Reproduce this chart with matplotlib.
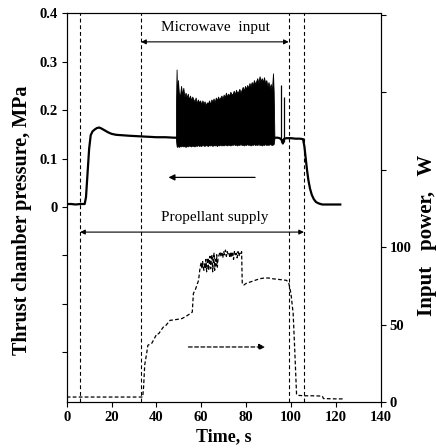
import numpy as np
import matplotlib
matplotlib.use("Agg")
import matplotlib.pyplot as plt

plt.rcParams['font.family'] = ['Liberation Serif', 'DejaVu Serif']

# Thrust chamber pressure, MPa (smooth part of the trace)
t_press = [0, 2, 4, 6, 8, 8.6, 9.3, 10.0, 10.7, 11.5, 12.5, 13.5, 14.5, 15.5, 17, 18.5,
           20, 22, 25, 28, 32, 36, 40, 44, 48, 52, 60, 70, 80, 90, 93, 94, 95, 96, 96.4,
           97, 98, 100, 102, 104, 105.4, 106, 106.6, 107.2, 107.8, 108.5, 109.3, 110.2,
           111.2, 112.5, 114, 117, 120, 122]
press = [0.006, 0.006, 0.005, 0.006, 0.006, 0.02, 0.07, 0.12, 0.148, 0.156, 0.160, 0.163,
         0.164, 0.162, 0.158, 0.154, 0.151, 0.149, 0.148, 0.147, 0.146, 0.145, 0.144,
         0.144, 0.143, 0.143, 0.142, 0.142, 0.142, 0.142, 0.143, 0.143, 0.142, 0.138, 0.131,
         0.141, 0.142, 0.142, 0.141, 0.141, 0.140, 0.125, 0.10, 0.075, 0.055, 0.038, 0.025,
         0.016, 0.010, 0.007, 0.005, 0.005, 0.005, 0.005]

# oscillating part during microwave input (upper / lower envelope)
t_osc = [48.7, 49.0, 49.2, 49.6, 50.0, 50.5, 51.0, 51.5, 52.0, 52.5, 53.0, 53.5, 54.0, 54.5,
         55.0, 55.5, 56.0, 56.5, 57.0, 57.5, 58.0, 58.5, 59.0, 59.5, 60.0, 60.5, 61.0, 61.5,
         62.0, 62.5, 63.0, 63.5, 64.0, 64.5, 65.0, 65.5, 66.0, 66.5, 67.0, 67.5, 68.0, 68.5,
         69.0, 69.5, 70.0, 70.5, 71.0, 71.5, 72.0, 72.5, 73.0, 73.5, 74.0, 74.5, 75.0, 75.5,
         76.0, 76.5, 77.0, 77.5, 78.0, 78.5, 79.0, 79.5, 80.0, 80.5, 81.0, 81.5, 82.0, 82.5,
         83.0, 83.5, 84.0, 84.5, 85.0, 85.5, 86.0, 86.5, 87.0, 87.5, 88.0, 88.5, 89.0, 89.5,
         90.0, 90.5, 91.0, 91.5, 92.0, 92.3, 92.6]
osc_top = [0.20, 0.284, 0.230, 0.262, 0.236, 0.228, 0.250, 0.232, 0.246, 0.228, 0.236, 0.226,
           0.234, 0.222, 0.230, 0.220, 0.228, 0.222, 0.218, 0.226, 0.214, 0.222, 0.216, 0.220,
           0.212, 0.220, 0.214, 0.218, 0.210, 0.216, 0.214, 0.220, 0.212, 0.222, 0.218, 0.224,
           0.216, 0.226, 0.220, 0.228, 0.222, 0.226, 0.230, 0.224, 0.232, 0.226, 0.236, 0.228,
           0.234, 0.230, 0.238, 0.232, 0.234, 0.240, 0.232, 0.242, 0.236, 0.238, 0.244, 0.236,
           0.242, 0.248, 0.240, 0.250, 0.244, 0.252, 0.246, 0.256, 0.250, 0.258, 0.252, 0.262,
           0.254, 0.260, 0.266, 0.256, 0.270, 0.260, 0.266, 0.258, 0.268, 0.256, 0.262, 0.250,
           0.258, 0.246, 0.254, 0.240, 0.276, 0.238, 0.15]
osc_bot = [0.140, 0.126, 0.124, 0.126, 0.124, 0.126, 0.125, 0.127, 0.125, 0.126, 0.124, 0.126,
           0.125, 0.127, 0.126, 0.125, 0.127, 0.126, 0.125, 0.127, 0.126, 0.128, 0.126, 0.127,
           0.126, 0.128, 0.127, 0.126, 0.128, 0.127, 0.126, 0.128, 0.127, 0.128, 0.126, 0.128,
           0.127, 0.128, 0.126, 0.128, 0.127, 0.129, 0.127, 0.128, 0.127, 0.129, 0.128, 0.127,
           0.129, 0.128, 0.127, 0.129, 0.128, 0.130, 0.128, 0.129, 0.127, 0.129, 0.128, 0.130,
           0.128, 0.129, 0.127, 0.129, 0.128, 0.130, 0.128, 0.129, 0.127, 0.129, 0.128, 0.130,
           0.128, 0.129, 0.128, 0.130, 0.128, 0.129, 0.127, 0.129, 0.128, 0.130, 0.128, 0.129,
           0.128, 0.130, 0.129, 0.128, 0.129, 0.130, 0.140]
# isolated spikes after the dense part
t_spike = [95.4, 96.9]
spike_top = [0.251, 0.227]

# Input power, W
t_power = [0, 5, 10, 15, 20, 25, 30, 33.9, 34.3, 34.8, 35.5, 36.2, 38, 40.2, 41, 43.1, 44,
           46.1, 48, 51.3, 53, 55, 56, 56.5, 57.5, 58.8, 59.5,
           60, 60.3, 60.6, 60.9, 61.2, 61.5, 61.8, 62.1, 62.4, 62.7, 63, 63.3, 63.6, 63.9,
           64.2, 64.5, 64.8, 65.1, 65.4, 65.7, 66, 66.3, 66.6, 66.9, 67.2, 67.5,
           68, 68.4, 68.8, 69.2, 69.6, 70, 70.4, 70.8, 71.2, 71.6, 72, 72.4, 72.8, 73.2,
           73.6, 74, 74.4, 74.8, 75.2, 75.6, 76, 76.4, 76.8, 77.2, 77.6, 78,
           78.3, 79, 80, 82, 84, 86, 88, 90, 92, 95, 98, 99, 100, 101, 101.8, 102.5, 103,
           106, 110, 114, 114.5, 120, 124]
power = [3.2, 3.2, 3.2, 3.2, 3.2, 3.2, 3.2, 3.2, 10, 24, 30, 36.6, 38, 44, 44, 48.4, 49,
         52.7, 53, 53.8, 55, 57, 58, 70, 73, 78.5, 87,
         90, 86, 91, 87, 85, 90, 86, 92, 84, 89, 93, 85, 90, 94,
         86, 92, 95, 84, 91, 96, 85, 92, 88, 95, 87, 93,
         95, 97, 94, 96, 93, 97, 95, 98, 94, 97, 95, 96, 93, 97,
         94, 96, 92, 97, 95, 96, 93, 97, 94, 96, 95, 97,
         76, 75.5, 76.5, 77.5, 78.5, 79.5, 80, 80, 79.5, 79, 78.5, 77, 70, 57, 30, 5, 4.3,
         4, 4, 3.8, 2.2, 2, 2]

# event times (vertical dashed lines)
t_events = [6, 33.2, 99, 105.8]

fig = plt.figure(figsize=(4.36, 4.48), dpi=100)
ax = fig.add_axes([0.153, 0.1027, 0.720, 0.8676])
ax2 = ax.twinx()

ax.fill_between(t_osc, osc_bot, osc_top, color='black', lw=0.6)
ax.vlines(t_spike, 0.135, spike_top, color='black', lw=0.9)
ax.plot(t_press, press, color='black', lw=1.6)

for te in t_events:
    ax.axvline(te, color='black', lw=0.8, ls=(0, (3.5, 2.5)))

ax2.plot(t_power, power, color='black', lw=0.9, ls=(0, (3, 1.8)))

# annotations
ax.annotate('', xy=(33.2, 0.341), xytext=(99, 0.341),
            arrowprops=dict(arrowstyle='<|-|>', color='black', lw=0.8, mutation_scale=7,
                            shrinkA=0, shrinkB=0))
ax.text(66.2, 0.358, 'Microwave  input', ha='center', va='bottom', fontsize=11)
ax.annotate('', xy=(6, -0.052), xytext=(105.8, -0.052),
            arrowprops=dict(arrowstyle='<|-|>', color='black', lw=0.8, mutation_scale=7,
                            shrinkA=0, shrinkB=0))
ax.text(66.0, -0.036, 'Propellant supply', ha='center', va='bottom', fontsize=11)
ax.annotate('', xy=(45.4, 0.061), xytext=(84, 0.061),
            arrowprops=dict(arrowstyle='-|>', color='black', lw=0.9, mutation_scale=9,
                            shrinkA=0, shrinkB=0))
ax.annotate('', xy=(88.5, 35.5), xytext=(54.3, 35.5), xycoords=ax2.transData,
            textcoords=ax2.transData,
            arrowprops=dict(arrowstyle='-|>', color='black', lw=0.9, mutation_scale=9,
                            ls=(0, (3, 2)), shrinkA=0, shrinkB=0))

ax.set_xlim(0, 140)
ax.set_ylim(-0.403, 0.4)
ax2.set_ylim(0, 250.8)

tick_font = dict(fontsize=10.5, fontweight='bold')
ax.set_xticks(np.arange(0, 141, 20))
ax.set_xticklabels([str(v) for v in range(0, 141, 20)], **tick_font)
ax.set_yticks(np.arange(-0.3, 0.41, 0.1))
ax.set_yticklabels(['', '', '', '0', '0.1', '0.2', '0.3', '0.4'], **tick_font)
ax2.set_yticks(np.arange(0, 251, 50))
ax2.set_yticklabels(['0', '50', '100', '', '', ''], **tick_font)

for a in (ax, ax2):
    a.tick_params(direction='out', length=3.5, width=0.8, pad=3)
    for sp in a.spines.values():
        sp.set_linewidth(0.8)

ax.set_xlabel('Time, s', fontsize=13, fontweight='bold', labelpad=3)
ax.set_ylabel('Thrust chamber pressure, MPa', fontsize=14.5, fontweight='bold')
ax2.set_ylabel('Input   power,   W', fontsize=15, fontweight='bold')
ax.yaxis.set_label_coords(-0.11, 0.468)
ax2.yaxis.set_label_coords(1.116, 0.428)

fig.savefig('out.png', dpi=100)
